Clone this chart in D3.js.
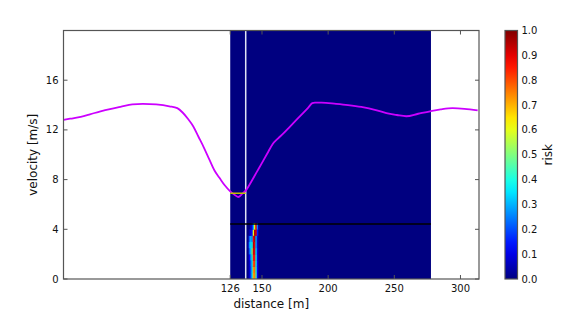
<!DOCTYPE html>
<html><head><meta charset="utf-8">
<script src="https://cdn.jsdelivr.net/npm/d3@7"></script>
<style>body{margin:0;background:#fff}svg{display:block}text{font-family:"DejaVu Sans",sans-serif;font-size:10px;fill:#111}</style>
</head><body><svg id="c" width="580" height="311"></svg>
<script>
// velocity profile (distance m, velocity m/s)
const profD = [0,5,13,20,28,36,43,52,60,70,80,86,90,94,98,102,106,110,114,118,122,126,129,132,135,138,142,146,150,154,158,162,166,171,176,181,185,188,190,195,206,215,225,236,244,252,259,268,277,285,294,303,313];
const profV = [12.8,12.9,13.05,13.25,13.5,13.7,13.85,14.05,14.1,14.05,13.9,13.75,13.4,12.9,12.3,11.45,10.6,9.67,8.75,8.12,7.52,7.05,6.8,6.6,6.85,7.15,7.85,8.6,9.35,10.1,10.85,11.3,11.7,12.25,12.8,13.35,13.8,14.15,14.2,14.2,14.1,14.0,13.85,13.6,13.35,13.2,13.1,13.3,13.5,13.65,13.75,13.7,13.57];
// risk map extent
const mapX = [126, 277.7];
const mapV = [0, 20];
// non-zero risk cells: columns (distance start, 1 m wide), rows (velocity start, 0.5 m/s high)
const riskCols = [139,140,141,142,143,144,145,146,147];
const riskRows = [0,0.5,1,1.5,2,2.5,3,3.5,4];
const riskVals = [
  [0.02,0.08,0.18,0.35,0.72,0.74,0.45,0.12,0.0],
  [0.02,0.08,0.18,0.35,0.74,0.76,0.42,0.12,0.0],
  [0.02,0.08,0.2,0.35,0.8,0.82,0.4,0.12,0.0],
  [0.02,0.12,0.25,0.4,0.86,0.86,0.4,0.1,0.0],
  [0.02,0.22,0.32,0.5,0.92,0.9,0.35,0.1,0.0],
  [0.05,0.28,0.34,0.38,0.95,0.9,0.3,0.08,0.0],
  [0.02,0.22,0.3,0.28,0.9,0.95,0.3,0.08,0.0],
  [0.0,0.05,0.1,0.15,0.6,0.95,0.9,0.15,0.0],
  [0.0,0.0,0.05,0.1,0.3,0.6,0.88,0.25,0.05]
];
const whiteLineD = 137.7;
const yellowLine = {d:[126,137.7], v:6.9};
const blackLineV = 4.43;
const xTicks = [126,150,200,250,300];
const yTicks = [0,4,8,12,16];
const cbTicks = [0,0.1,0.2,0.3,0.4,0.5,0.6,0.7,0.8,0.9,1.0];

function jet(t){
  t=Math.max(0,Math.min(1,t));
  const r=Math.max(0,Math.min(1,1.5-Math.abs(4*t-3)));
  const g=Math.max(0,Math.min(1,1.5-Math.abs(4*t-2)));
  const b=Math.max(0,Math.min(1,1.5-Math.abs(4*t-1)));
  return d3.rgb(r*255,g*255,b*255).toString();
}

const svg=d3.select("#c");
const L=63.5,R=479,T=30.5,B=279;
const x=d3.scaleLinear().domain([0,314]).range([L,R]);
const y=d3.scaleLinear().domain([0,20]).range([B,T]);

const g=svg.append("g");
g.append("defs").append("clipPath").attr("id","clip").append("rect").attr("x",L).attr("y",T).attr("width",R-L).attr("height",B-T);
const pg=g.append("g").attr("clip-path","url(#clip)");
// map background (risk 0)
pg.append("rect").attr("x",x(mapX[0])).attr("y",y(mapV[1])).attr("width",x(mapX[1])-x(mapX[0])).attr("height",y(mapV[0])-y(mapV[1])).attr("fill",jet(0));
// risk cells
riskVals.forEach((row,i)=>{
  row.forEach((v,j)=>{
    if(v<=0) return;
    pg.append("rect").attr("x",x(riskCols[j])).attr("y",y(riskRows[i]+0.5))
      .attr("width",x(riskCols[j]+1)-x(riskCols[j])+0.3).attr("height",y(riskRows[i])-y(riskRows[i]+0.5)+0.3)
      .attr("fill",jet(v));
  });
});
// white vertical line
pg.append("line").attr("x1",x(whiteLineD)).attr("x2",x(whiteLineD)).attr("y1",T).attr("y2",B).attr("stroke","#dfe3f5").attr("stroke-width",1.5);
// black horizontal line
pg.append("line").attr("x1",x(mapX[0])).attr("x2",x(mapX[1])).attr("y1",y(blackLineV)).attr("y2",y(blackLineV)).attr("stroke","#000").attr("stroke-width",1.6);
// velocity profile
const line=d3.line().x((d,i)=>x(profD[i])).y((d,i)=>y(profV[i])).curve(d3.curveMonotoneX);
pg.append("path").datum(profD).attr("d",line).attr("fill","none").attr("stroke","#cc00ff").attr("stroke-width",1.8);
// yellow line
pg.append("line").attr("x1",x(yellowLine.d[0])).attr("x2",x(yellowLine.d[1])).attr("y1",y(yellowLine.v)).attr("y2",y(yellowLine.v)).attr("stroke","#bfbf00").attr("stroke-width",1.6);

// axes: ticks inside on all sides
const ax=g.append("g");
xTicks.forEach(t=>{
  ax.append("line").attr("x1",x(t)).attr("x2",x(t)).attr("y1",B).attr("y2",B-4).attr("stroke","#555");
  ax.append("line").attr("x1",x(t)).attr("x2",x(t)).attr("y1",T).attr("y2",T+4).attr("stroke","#555");
  ax.append("text").attr("x",x(t)).attr("y",B+13).attr("text-anchor","middle").text(t);
});
yTicks.forEach(t=>{
  ax.append("line").attr("x1",L).attr("x2",L+4).attr("y1",y(t)).attr("y2",y(t)).attr("stroke","#555");
  ax.append("line").attr("x1",R).attr("x2",R-4).attr("y1",y(t)).attr("y2",y(t)).attr("stroke","#555");
  ax.append("text").attr("x",L-5).attr("y",y(t)+3.5).attr("text-anchor","end").text(t);
});
ax.append("rect").attr("x",L).attr("y",T).attr("width",R-L).attr("height",B-T).attr("fill","none").attr("stroke","#555").attr("stroke-width",1.2);
ax.append("text").attr("x",(L+R)/2).attr("y",307.5).attr("text-anchor","middle").style("font-size","12px").text("distance [m]");
ax.append("text").attr("transform",`translate(37,${(T+B)/2}) rotate(-90)`).attr("text-anchor","middle").style("font-size","12px").text("velocity [m/s]");

// colorbar
const cbL=505,cbR=517.5;
const cy=d3.scaleLinear().domain([0,1]).range([B,T]);
const grad=svg.append("defs").append("linearGradient").attr("id","jet").attr("x1",0).attr("y1",1).attr("x2",0).attr("y2",0);
d3.range(0,1.0001,0.05).forEach(s=>grad.append("stop").attr("offset",s).attr("stop-color",jet(s)));
svg.append("rect").attr("x",cbL).attr("y",T).attr("width",cbR-cbL).attr("height",B-T).attr("fill","url(#jet)").attr("stroke","#555").attr("stroke-width",1.2);
cbTicks.forEach(t=>{
  svg.append("text").attr("x",cbR+4).attr("y",cy(t)+3.5).text(t.toFixed(1));
});
svg.append("text").attr("transform",`translate(552,${(T+B)/2}) rotate(-90)`).attr("text-anchor","middle").style("font-size","12px").text("risk");
</script></body></html>
